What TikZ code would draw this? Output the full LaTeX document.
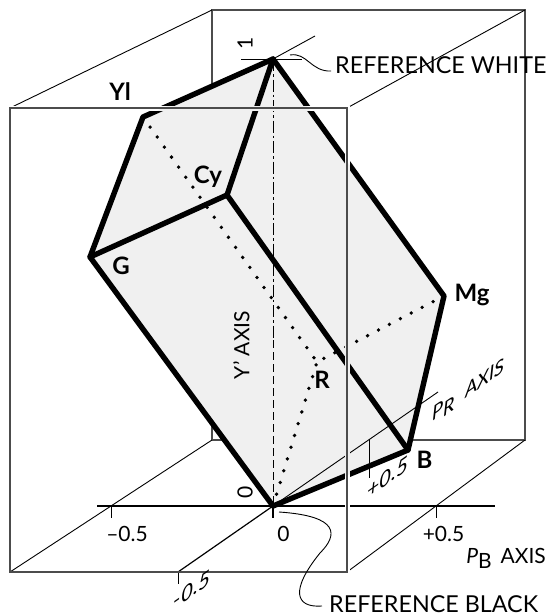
\documentclass[tikz,border=0pt]{standalone}
\usepackage{fontspec}
\setmainfont{Lato}
\tikzset{
  boxline/.style={draw=black!70,line width=1.1pt},
  thinline/.style={draw=black,line width=0.9pt},
  axisline/.style={draw=black,line width=1.2pt},
  thickline/.style={draw=black,line width=5.4pt,line join=round,line cap=round},
  dotline/.style={draw=black,line width=3.8pt,line cap=round,dash pattern=on 0pt off 12.3pt},
  lab/.style={inner sep=0pt,font=\fontsize{21}{21}\selectfont},
  reflab/.style={inner sep=0pt,font=\fontsize{23.3}{23.3}\selectfont},
  vlab/.style={inner sep=0pt,font=\fontsize{24}{24}\selectfont\bfseries},
  itlab/.style={inner sep=0pt,font=\fontsize{21}{21}\selectfont\itshape,yslant=0.7},
}
\begin{document}
\begin{tikzpicture}[x=1pt,y=-1pt]
\useasboundingbox (0,0) rectangle (546,616);
% box corners
\coordinate (ftl) at (10,108); \coordinate (ftr) at (347,108);
\coordinate (fbl) at (10,572); \coordinate (fbr) at (347,572);
\coordinate (btl) at (212,10); \coordinate (btr) at (525,10);
\coordinate (bbl) at (212,440); \coordinate (bbr) at (525,440);
% solid vertices
\coordinate (white) at (273,59); \coordinate (yl) at (143,117);
\coordinate (cy) at (227,195); \coordinate (g) at (90,257);
\coordinate (mg) at (444,296); \coordinate (b) at (408,450);
\coordinate (black) at (273,506); \coordinate (r) at (317,362);
% axis ends
\coordinate (hl) at (97,506); \coordinate (hr) at (495,506);
\coordinate (dl) at (178,572); \coordinate (dr) at (438,392);
\coordinate (du) at (315,36);
\coordinate (wl) at (241,59); \coordinate (wr) at (302,59);
\coordinate (mid) at (273,340);
% back box
\draw[boxline] (btl) -- (btr) -- (bbr) -- (bbl) -- cycle;
\draw[thinline] (btl) -- (ftl) (btr) -- (ftr) (bbl) -- (fbl) (bbr) -- (fbr);
% solid
\fill[black!6] (black) -- (g) -- (yl) -- (white) -- (mg) -- (b) -- cycle;
\draw[dotline] (yl) -- (r);
\draw[dotline] (mg) -- (r);
\draw[dotline] (black) -- (r);
% axes
\draw[thinline,dash pattern=on 12pt off 3pt on 2.5pt off 3pt] (white) -- (mid);
\draw[thinline,dash pattern=on 8pt off 4pt] (mid) -- (black);
\draw[axisline] (hl) -- (hr);
\draw[axisline] (dl) -- (black);
\draw[thinline] (black) -- (dr);
\draw[thinline] (wl) -- (wr);
\draw[thinline] (white) -- (du);
% ticks
\coordinate (t1a) at (111,506); \coordinate (t1b) at (111,518);
\coordinate (t2a) at (273,506); \coordinate (t2b) at (273,518);
\coordinate (t3a) at (436,506); \coordinate (t3b) at (436,518);
\coordinate (t4b) at (178,584);
\coordinate (t5a) at (369,439); \coordinate (t5b) at (369,478);
\draw[thinline] (t1a) -- (t1b) (t3a) -- (t3b) (dl) -- (t4b) (t5a) -- (t5b);
\draw[axisline,line width=2pt] (t2a) -- (t2b);
% thick edges
\draw[thickline] (black) -- (g) -- (yl) -- (white) -- (mg) -- (b) -- cycle;
\draw[thickline] (g) -- (cy) -- (white);
\draw[thickline] (cy) -- (b);
% front box with halo
\draw[white,line width=5pt] (ftl) -- (ftr) -- (fbr);
\begin{scope}
\clip (black) -- (g) -- (yl) -- (white) -- (mg) -- (b) -- cycle;
\draw[black!6,line width=5pt] (ftl) -- (ftr) -- (fbr);
\end{scope}
\draw[boxline] (ftl) -- (ftr) -- (fbr) -- (fbl) -- cycle;
% leaders
\coordinate (lw1) at (290,55); \coordinate (lw2) at (331,71);
\draw[thinline] (lw1) .. controls (307,52) and (311,72) .. (lw2);
\coordinate (lb1) at (279,512); \coordinate (lb2) at (322,606);
\draw[thinline] (lb1) .. controls (340,516) and (338,535) .. (320,553) .. controls (290,590) and (295,608) .. (lb2);
% labels
\node[reflab,anchor=west] (refw) at (335,65) {REFERENCE WHITE};
\node[reflab,anchor=west] (refb) at (329,604.5) {REFERENCE BLACK};
\node[vlab] (nyl) at (120,92) {Yl};
\node[vlab] (ncy) at (208,177) {Cy};
\node[vlab] (ng) at (121,266) {G};
\node[vlab] (nmg) at (472,295) {Mg};
\node[vlab] (nr) at (322,380) {R};
\node[vlab] (nb) at (424.5,460) {B};
\node[lab,rotate=90] (n1) at (245,43) {1};
\node[lab,rotate=90] (n0) at (245,492) {0};
\node[lab,rotate=90] (yax) at (241.5,345) {Y' AXIS};
\node[lab] (tm) at (127,534) {–0.5};
\node[lab] (tz) at (283.5,534) {0};
\node[lab] (tp) at (443.5,534) {+0.5};
\node[lab,anchor=east] (pb) at (546,558) {\textit{P}\raisebox{-5pt}{B}\, AXIS};
\node[itlab,font=\fontsize{19.5}{19.5}\selectfont\itshape] (pr) at (468.5,391) {P\raisebox{-3pt}{R}\,\, AXIS};
\node[itlab] (dp) at (388,477) {+0.5};
\node[itlab] (dm) at (192,589) {-0.5};
\end{tikzpicture}
\end{document}
